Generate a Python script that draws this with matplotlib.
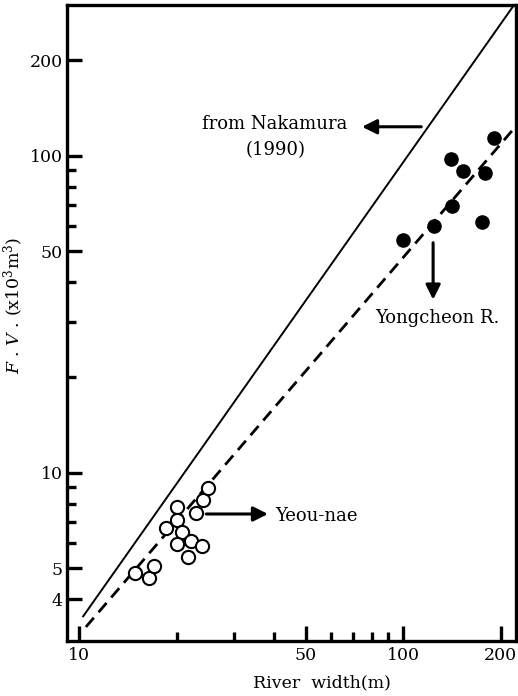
import matplotlib
matplotlib.use("Agg")
import matplotlib.pyplot as plt
import numpy as np
from matplotlib.ticker import FixedLocator, FixedFormatter, NullFormatter

plt.rcParams['font.family'] = ['DejaVu Serif']
plt.rcParams['mathtext.fontset'] = 'dejavuserif'

# Yeou-nae (open circles)
yeou_width = [14.9, 16.4, 17.0, 18.6, 20.1, 20.1, 20.8, 20.1, 22.1, 21.7, 24.0, 23.0, 24.1, 25.0]
yeou_fv = [4.85, 4.67, 5.10, 6.72, 7.80, 7.11, 6.50, 5.97, 6.10, 5.42, 5.90, 7.46, 8.22, 8.99]

# Yongcheon R. (filled circles)
yong_width = [100.2, 124.7, 141.6, 140.9, 153.1, 179.5, 175.0, 191.4]
yong_fv = [54.3, 60.1, 69.6, 97.6, 89.5, 88.2, 61.7, 113.7]

# Power-law lines  V = a * W^b
nakamura_a, nakamura_b = 0.12, 1.45
fit_a, fit_b = 0.199, 1.19
line_w_nakamura = [10.3, 240.0]
line_w_fit = [10.5, 240.0]

x_major = [10, 50, 100, 200]
x_minor = [20, 30, 40, 60, 70, 80, 90]
y_major = [4, 5, 10, 50, 100, 200]
y_minor = [6, 7, 8, 9, 20, 30, 40, 60, 70, 80, 90]

fig = plt.figure(figsize=(5.18, 6.96), dpi=100)
ax = fig.add_axes([0.1293, 0.079, 0.8667, 0.9138])
ax.set_xscale('log')
ax.set_yscale('log')
ax.set_xlim(9.18, 223)
ax.set_ylim(2.95, 299)

wn = np.array(line_w_nakamura)
ax.plot(wn, nakamura_a * wn ** nakamura_b, color='black', lw=1.4)
wf = np.array(line_w_fit)
ax.plot(wf, fit_a * wf ** fit_b, color='black', lw=2.0, dashes=(4.4, 2.6))

ax.plot(yeou_width, yeou_fv, 'o', mfc='white', mec='black', mew=1.5, ms=9.5, zorder=3)
ax.plot(yong_width, yong_fv, 'o', mfc='black', mec='black', ms=9.5, zorder=3)

ax.xaxis.set_major_locator(FixedLocator(x_major))
ax.xaxis.set_major_formatter(FixedFormatter([str(v) for v in x_major]))
ax.xaxis.set_minor_locator(FixedLocator(x_minor))
ax.xaxis.set_minor_formatter(NullFormatter())
ax.yaxis.set_major_locator(FixedLocator(y_major))
ax.yaxis.set_major_formatter(FixedFormatter([str(v) for v in y_major]))
ax.yaxis.set_minor_locator(FixedLocator(y_minor))
ax.yaxis.set_minor_formatter(NullFormatter())

ax.tick_params(which='major', direction='in', length=11, width=2.4, labelsize=12.5, pad=4)
ax.tick_params(which='minor', direction='in', length=6.5, width=2.4)
ax.tick_params(axis='y', which='major', pad=3)
for s in ax.spines.values():
    s.set_linewidth(2.4)

ax.set_xlabel('River  width(m)', fontsize=12.5)
ax.xaxis.set_label_coords(0.568, -0.052)
ax.set_ylabel(r'$F$ . $V$ . (x10$^3$m$^3$)', fontsize=12.5)
ax.yaxis.set_label_coords(-0.092, 0.528)

arrow = dict(arrowstyle='-|>', lw=2.2, color='black', mutation_scale=22, shrinkA=0, shrinkB=0)
ax.annotate('', xy=(74.7, 123.5), xytext=(113.8, 123.5), arrowprops=arrow)
ax.text(40.3, 126.2, 'from Nakamura', fontsize=13, ha='center', va='center')
ax.text(40.3, 104.5, '(1990)', fontsize=13, ha='center', va='center')

ax.annotate('', xy=(123.8, 35.2), xytext=(123.8, 53.2), arrowprops=arrow)
ax.text(81.9, 30.8, 'Yongcheon R.', fontsize=13, ha='left', va='center')

ax.annotate('', xy=(38.3, 7.42), xytext=(24.7, 7.42), arrowprops=arrow)
ax.text(40.3, 7.31, 'Yeou-nae', fontsize=13, ha='left', va='center')

fig.savefig('out.png', dpi=100)
